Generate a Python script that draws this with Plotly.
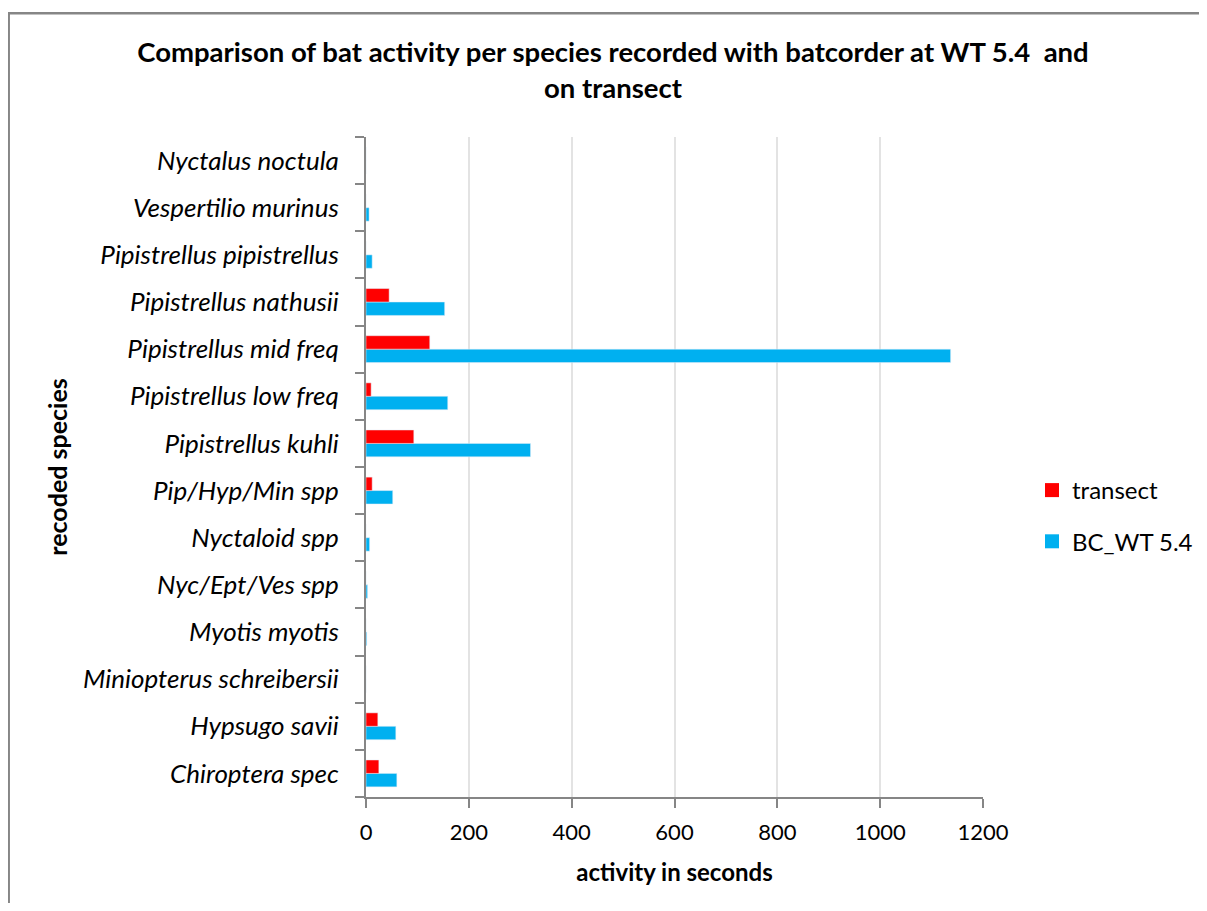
import plotly.graph_objects as go

species = [
    "Chiroptera spec", "Hypsugo savii", "Miniopterus schreibersii", "Myotis myotis",
    "Nyc/Ept/Ves spp", "Nyctaloid spp", "Pip/Hyp/Min spp", "Pipistrellus kuhli",
    "Pipistrellus low freq", "Pipistrellus mid freq", "Pipistrellus nathusii",
    "Pipistrellus pipistrellus", "Vespertilio murinus", "Nyctalus noctula",
]
transect = [25, 23, 0, 0, 0, 0, 12, 93, 10, 124, 45, 0, 0, 0]
bc_wt54 = [60, 58, 0, 1.5, 3, 7, 52, 320, 159, 1137, 153, 12, 6, 0]
x_ticks = [0, 200, 400, 600, 800, 1000, 1200]

FONT = "Lato"
AXIS_COLOR = "#868686"
RED, BLUE = "#FF0000", "#00B0F0"

fig = go.Figure()
fig.add_trace(go.Bar(y=species, x=bc_wt54, orientation="h", name="BC_WT 5.4",
                     marker_color=BLUE, showlegend=False))
fig.add_trace(go.Bar(y=species, x=transect, orientation="h", name="transect",
                     marker_color=RED, showlegend=False))
# legend entries with larger square swatches
fig.add_trace(go.Scatter(x=[None], y=[None], mode="markers", name="transect",
                         marker=dict(symbol="square", size=14, color=RED),
                         legendgroup="a", legendrank=1))
fig.add_trace(go.Scatter(x=[None], y=[None], mode="markers", name="BC_WT 5.4",
                         marker=dict(symbol="square", size=14, color=BLUE),
                         legendgroup="b", legendrank=2))

# page offset (body margin) = 8 px; coordinates below are figure pixels
OFF = 8
W, H = 1191, 895
L, R, T, B = 366 - OFF, 983 - OFF, 137 - OFF, 797 - OFF
pw, ph = R - L, B - T

def px(x):
    return (x - OFF - L) / pw

def py(y):
    return (B - (y - OFF)) / ph

fig.update_layout(
    width=W, height=H,
    margin=dict(l=L, r=W - R, t=T, b=H - B, autoexpand=False),
    paper_bgcolor="white", plot_bgcolor="white",
    barmode="group", bargap=0.43, bargroupgap=0,
    font=dict(family=FONT, size=22, color="black"),
    title=dict(
        text="<b>Comparison of bat activity per species recorded with batcorder at WT 5.4  and<br>on transect</b>",
        x=(613 - OFF) / W, xanchor="center", y=1 - (62 - OFF) / H, yanchor="middle",
        font=dict(family=FONT, size=27.5, color="black"),
    ),
    legend=dict(
        x=px(1032), xanchor="left", y=py(516), yanchor="middle",
        traceorder="grouped", tracegroupgap=17,
        font=dict(family=FONT, size=24), bgcolor="rgba(0,0,0,0)",
        itemwidth=30, borderwidth=0,
    ),
    xaxis=dict(
        range=[0, 1200], tickvals=x_ticks, ticktext=[str(v) for v in x_ticks],
        showgrid=True, gridcolor="#e3e3e3", gridwidth=1.5,
        showline=True, linecolor=AXIS_COLOR, linewidth=2,
        ticks="outside", ticklen=9, tickcolor=AXIS_COLOR, tickwidth=2,
        zeroline=False, tickfont=dict(family=FONT, size=22),
        ticklabelstandoff=6,
        title=dict(text="<b>activity in seconds</b>", font=dict(family=FONT, size=24), standoff=20),
    ),
    yaxis=dict(
        type="category", categoryorder="array", categoryarray=species,
        showline=True, linecolor=AXIS_COLOR, linewidth=2,
        ticks="outside", ticklen=9, tickcolor=AXIS_COLOR, tickwidth=2,
        tickson="boundaries", showgrid=False, zeroline=False,
        tickfont=dict(family=FONT, size=26, style="italic"),
        ticklabelstandoff=20,
        title=dict(text="<b>recoded species</b>", font=dict(family=FONT, size=25), standoff=8),
    ),
    shapes=[dict(
        type="rect", xref="paper", yref="paper",
        x0=px(8.7), x1=px(1230), y0=py(13.2), y1=py(940),
        line=dict(color=AXIS_COLOR, width=2.5), fillcolor="rgba(0,0,0,0)", layer="below",
    )],
)

fig.write_html("out.html")
